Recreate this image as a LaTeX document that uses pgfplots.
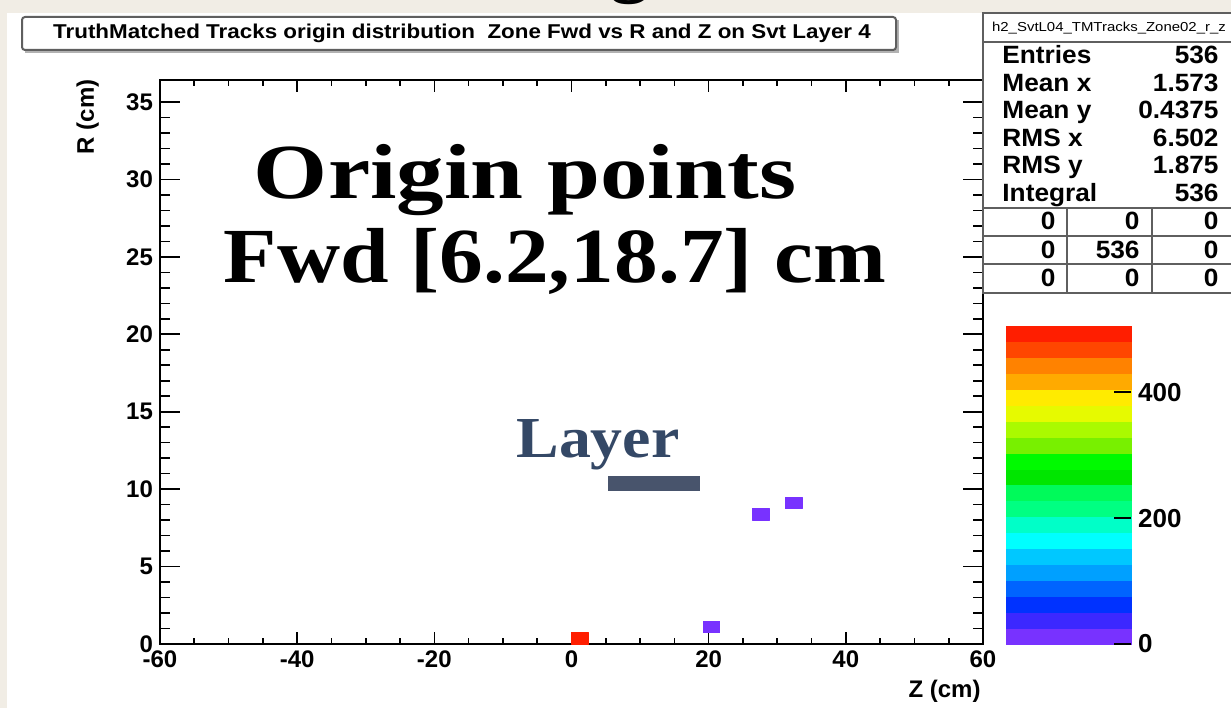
\documentclass[border=0pt]{standalone}
\usepackage{fontspec}
\setmainfont{Liberation Sans}
\newfontfamily\serifb{Liberation Serif}
\usepackage{pgfplots}
\pgfplotsset{compat=1.18}
\usepackage{pgfplotstable}
\definecolor{bgbeige}{RGB}{241,237,229}
\definecolor{layerblue}{RGB}{52,72,102}
\definecolor{layerbar}{RGB}{72,84,108}
\definecolor{boxgray}{RGB}{95,95,95}

\pgfplotstableread{
z r c
0 0 533
2.4 0 533
2.4 0.728 533
0 0.728 533
19.2 0.728 1
21.6 0.728 1
21.6 1.456 1
19.2 1.456 1
26.4 8.008 1
28.8 8.008 1
28.8 8.736 1
26.4 8.736 1
31.2 8.736 1
33.6 8.736 1
33.6 9.464 1
31.2 9.464 1
}\bins

\pgfplotsset{
  colormap={rootpal}{
    rgb255=(120,50,255) rgb255=(60,40,255) rgb255=(0,50,255) rgb255=(0,100,255)
    rgb255=(0,160,255) rgb255=(0,200,255) rgb255=(0,255,255) rgb255=(0,255,200)
    rgb255=(0,255,130) rgb255=(0,250,90) rgb255=(0,230,0) rgb255=(0,250,0)
    rgb255=(120,240,0) rgb255=(170,250,0) rgb255=(230,250,0) rgb255=(255,235,0)
    rgb255=(255,170,0) rgb255=(255,130,0) rgb255=(255,70,0) rgb255=(255,30,0)
  }
}

\begin{document}
\begin{tikzpicture}[x=0.5pt,y=0.5pt]
\useasboundingbox (0,0) rectangle (1231,708);
\begin{scope}
\clip (0,0) rectangle (1231,708);
\begin{scope}[yshift=354pt,y=-0.5pt]
\fill[bgbeige] (0,0) rectangle (1231,708);
\fill[white] (7,13) rectangle (1240,720);
\node[anchor=base,font=\serifb\bfseries\fontsize{39}{40}\selectfont] at (630,-12) {g};
% title box
\fill[gray!60] (25,20) rectangle (899,53);
\draw[boxgray,fill=white,line width=1pt,rounded corners=1.5pt] (22,17) rectangle (896,50);
\node[xscale=1.12,font=\bfseries\fontsize{10}{11}\selectfont] at (462,33.5) {TruthMatched Tracks origin distribution\ \ Zone Fwd vs R and Z on Svt Layer 4};
\end{scope}

\begin{axis}[
  at={(80pt,32pt)}, anchor=south west,
  width=411.5pt, height=282pt, scale only axis,
  xmin=-60, xmax=60, ymin=0, ymax=36.42,
  xtick={-60,-40,...,60},
  xticklabels={-60,-40,-20,0,20,40,60},
  minor x tick num=3,
  ytick={0,5,...,35},
  minor y tick num=4,
  tick align=inside,
  major tick length=10pt, minor tick length=5pt,
  xtick style={/pgfplots/major tick length=6pt,/pgfplots/minor tick length=3pt},
  tick style={black,line width=0.8pt},
  axis line style={black,line width=1pt},
  ticklabel style={font=\bfseries\fontsize{12}{13}\selectfont},
  /pgf/number format/assume math mode=true,
  xlabel={Z (cm)}, ylabel={R (cm)},
  xlabel style={at={(axis description cs:1,-0.06)},anchor=north east,inner sep=1pt,font=\bfseries\fontsize{12}{13}\selectfont},
  ylabel style={at={(axis description cs:-0.088,1.005)},anchor=east,inner sep=1pt,font=\bfseries\fontsize{12}{13}\selectfont},
  colormap name=rootpal, colormap access=piecewise constant,
  point meta min=0, point meta max=505,
  colorbar right,
  colorbar style={
    at={(parent axis.south east)}, anchor=south west, xshift=3pt,
    width=62.5pt, height=159pt, scale only axis,
    ytick={0,200,400}, ytick pos=right, yticklabel pos=right,
    tick align=inside, major tick length=8.5pt,
    axis line style={draw=none},
    tick style={black,line width=0.8pt},
    yticklabel style={font=\bfseries\fontsize{13}{14}\selectfont},
    /pgf/number format/assume math mode=true,
  },
]
\addplot[patch, patch type=rectangle, shader=flat, draw=none,
  point meta={min(\thisrow{c},504)}] table[x=z,y=r] {\bins};
\fill[layerbar] (axis cs:5.3,9.87) rectangle (axis cs:18.8,10.84);
\end{axis}

\begin{scope}[yshift=354pt,y=-0.5pt]
% overlay texts
\node[anchor=base,xscale=1.22,font=\serifb\bfseries\fontsize{39}{40}\selectfont] at (525,199) {Origin points};
\node[anchor=base,xscale=1.12,font=\serifb\bfseries\fontsize{39}{40}\selectfont] at (555,283) {Fwd [6.2,18.7] cm};
\node[anchor=base,xscale=1.1,text=layerblue,font=\serifb\bfseries\fontsize{29}{30}\selectfont] at (598,457) {Layer};
% stat box
\draw[boxgray,fill=white,line width=1pt] (983,13) rectangle (1240,293);
\draw[boxgray,line width=1pt] (983,42) -- (1240,42);
\draw[boxgray,line width=1pt] (983,208) -- (1240,208);
\draw[boxgray,line width=1pt] (983,236) -- (1240,236);
\draw[boxgray,line width=1pt] (983,264) -- (1240,264);
\draw[boxgray,line width=1pt] (1067,208) -- (1067,293);
\draw[boxgray,line width=1pt] (1152,208) -- (1152,293);
\node[xscale=1.15,font=\fontsize{6.5}{7}\selectfont] at (1109,28) {h2\_SvtL04\_TMTracks\_Zone02\_r\_z};
\foreach \lab/\val/\yy in {Entries/536/64, Mean x/1.573/91.5, Mean y/0.4375/119, RMS x/6.502/147, RMS y/1.875/174, Integral/536/202}{
  \node[anchor=base west,xscale=1.05,font=\bfseries\fontsize{12.5}{13}\selectfont] at (995,\yy) {\lab};
  \node[anchor=base east,xscale=1.05,font=\bfseries\fontsize{12.5}{13}\selectfont] at (1226,\yy) {\val};
}
\foreach \a/\b/\c/\yy in {0/0/0/230, 0/536/0/258, 0/0/0/286}{
  \node[anchor=base east,xscale=1.05,font=\bfseries\fontsize{12.5}{13}\selectfont] at (1063,\yy) {\a};
  \node[anchor=base east,xscale=1.05,font=\bfseries\fontsize{12.5}{13}\selectfont] at (1147,\yy) {\b};
  \node[anchor=base east,xscale=1.05,font=\bfseries\fontsize{12.5}{13}\selectfont] at (1226,\yy) {\c};
}
\end{scope}
\end{scope}
\end{tikzpicture}
\end{document}
